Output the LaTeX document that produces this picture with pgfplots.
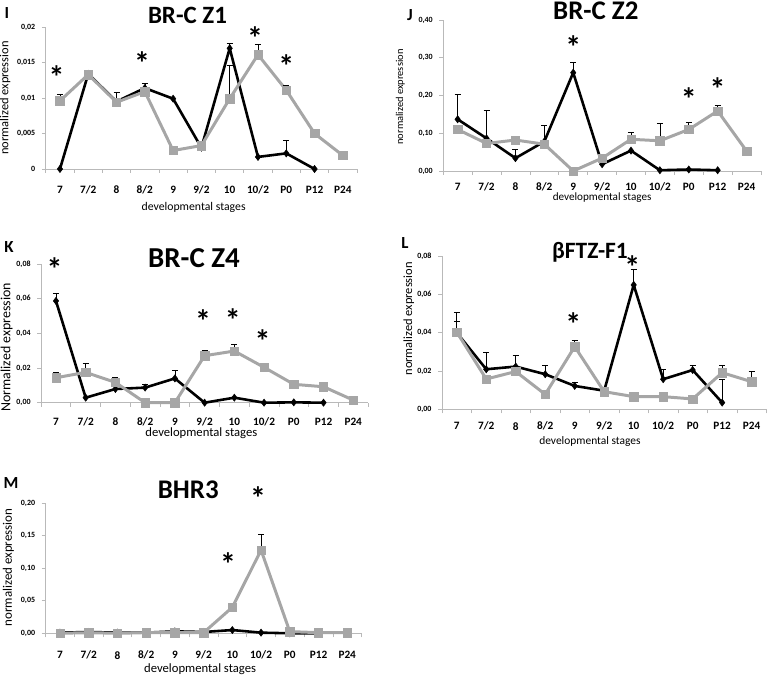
\documentclass[border=0pt]{standalone}
\usepackage{pgfplots}
\pgfplotsset{compat=1.18}
\usepackage{fontspec}
\setmainfont{Carlito}
\definecolor{sgray}{RGB}{166,166,166}
\definecolor{agray}{RGB}{185,185,185}
\tikzset{
 ast/.style={font=\fontsize{32}{32}\selectfont\bfseries, anchor=center, yshift=-5.7bp, inner sep=0pt},
 lett/.style={font=\fontsize{17}{19}\selectfont\bfseries, anchor=center},
 ttl/.style={anchor=base, inner sep=0pt},
}
\pgfplotsset{
 panel/.style={
  scale only axis, anchor=south west, axis lines=left,
  axis line style={-, draw=agray, line width=0.7pt},
  xmin=-0.5, xmax=10.5, enlargelimits=false, clip=false,
  scaled y ticks=false,
  xtick={0,...,10}, xticklabels={7,7/2,8,8/2,9,9/2,10,10/2,P0,P12,P24},
  minor xtick={-0.5,0.5,...,10.5},
  major x tick style={draw=none},
  minor tick length=4bp, major tick length=4bp,
  tick align=outside, tick style={draw=agray, line width=0.7pt},
  xticklabel style={font=\fontsize{11.3}{12}\selectfont\bfseries, anchor=center},
  yticklabel style={font=\fontsize{8}{10}\selectfont\bfseries, anchor=east, xshift=-3bp},
  xlabel={developmental stages}, ylabel={normalized expression},
  xlabel style={anchor=center},
  ylabel style={anchor=center},
 },
 blk/.style={black, line width=2.6pt, mark=diamond*, mark size=3.6bp, mark options={solid, fill=black, draw=black, line width=0.5pt}},
 gry/.style={sgray, line width=3pt, mark=square*, mark size=4.2bp, mark options={solid, fill=sgray, draw=sgray, line width=0.5pt}},
 errb/.style={draw=none, mark=none, forget plot, error bars/.cd, y dir=plus, y explicit, error bar style={draw=black, line width=0.6pt}, error mark options={draw=black, mark size=3bp, line width=0.6pt, rotate=90}},
}
\begin{document}
\begin{tikzpicture}
\path[use as bounding box] (0bp,0bp) rectangle (769bp,678bp);
% titles and panel letters
\node[lett] at (7bp,665bp) {I};
\node[lett] at (410bp,663bp) {J};
\node[lett] at (9bp,431bp) {K};
\node[lett] at (405bp,435bp) {L};
\node[lett] at (11bp,195bp) {M};
\node[ttl, font=\fontsize{25}{28}\selectfont\bfseries] at (187.5bp,654.8bp) {BR-C Z1};
\node[ttl, font=\fontsize{27}{30}\selectfont\bfseries] at (595.8bp,658bp) {BR-C Z2};
\node[ttl, font=\fontsize{29}{32}\selectfont\bfseries] at (194bp,410.5bp) {BR-C Z4};
\node[ttl, font=\fontsize{23.5}{26}\selectfont\bfseries] at (590bp,419.8bp) {βFTZ-F1};
\node[ttl, font=\fontsize{27}{30}\selectfont\bfseries] at (188.3bp,179bp) {BHR3};
% ---------------- Panel I ----------------
\begin{axis}[panel, at={(45.8bp,509bp)}, width=311.2bp, height=142bp,
  ymin=0, ymax=0.02, ytick={0,0.005,0.01,0.015,0.02},
  yticklabels={0,{0,005},{0,01},{0,015},{0,02}},
  xticklabel style={yshift=-17bp},
  xlabel style={font=\fontsize{11.8}{13}\selectfont, at={(axis description cs:0.475,-0.268)}},
  ylabel style={font=\fontsize{12.5}{14}\selectfont, at={(axis description cs:-0.131,0.5)}}]
\addplot[blk] table {
x y
0 0
1 0.0134
2 0.0095
3 0.0114
4 0.0099
5 0.0030
6 0.0170
7 0.0017
8 0.0022
9 0.0
};
\addplot[gry] table {
x y
0 0.0096
1 0.0133
2 0.0094
3 0.0109
4 0.0026
5 0.0033
6 0.0099
7 0.0161
8 0.0111
9 0.0050
10 0.0019
};
\addplot[errb] table[x=x,y=y,y error=e] {
x y e
1 0.0134 0.0004
3 0.0114 0.0006
6 0.0170 0.0007
8 0.0022 0.0019
};
\addplot[errb] table[x=x,y=y,y error=e] {
x y e
0 0.0096 0.0009
2 0.0094 0.0014
6 0.0099 0.0047
7 0.0161 0.0015
8 0.0111 0.0007
};
\node[ast] at (axis cs:-0.12,0.01375) {*};
\node[ast] at (axis cs:2.9,0.01577) {*};
\node[ast] at (axis cs:6.9,0.0193) {*};
\node[ast] at (axis cs:8.0,0.01535) {*};
\end{axis}
% ---------------- Panel J ----------------
\begin{axis}[panel, at={(443.2bp,507bp)}, width=317.8bp, height=151bp,
  ymin=0, ymax=0.4, ytick={0,0.1,0.2,0.3,0.4},
  yticklabels={{0,00},{0,10},{0,20},{0,30},{0,40}},
  xticklabel style={yshift=-11.5bp},
  xlabel style={font=\fontsize{11.2}{13}\selectfont, at={(axis description cs:0.5,-0.178)}},
  ylabel style={font=\fontsize{10.5}{12}\selectfont, at={(axis description cs:-0.135,0.49)}}]
\addplot[blk] table {
x y
0 0.137
1 0.0865
2 0.034
3 0.078
4 0.2605
5 0.018
6 0.054
7 0.002
8 0.004
9 0.002
};
\addplot[gry] table {
x y
0 0.110
1 0.073
2 0.082
3 0.071
4 0.0
5 0.034
6 0.084
7 0.080
8 0.110
9 0.159
10 0.053
};
\addplot[errb] table[x=x,y=y,y error=e] {
x y e
0 0.137 0.065
1 0.0865 0.075
2 0.034 0.023
3 0.078 0.043
4 0.2605 0.028
};
\addplot[errb] table[x=x,y=y,y error=e] {
x y e
2 0.082 0.011
6 0.084 0.018
7 0.080 0.046
8 0.110 0.018
9 0.159 0.016
};
\node[ast] at (axis cs:4,0.3425) {*};
\node[ast] at (axis cs:8,0.2066) {*};
\node[ast] at (axis cs:9,0.2331) {*};
\end{axis}
% ---------------- Panel K ----------------
\begin{axis}[panel, at={(41.1bp,275.3bp)}, width=327bp, height=138.7bp,
  ymin=0, ymax=0.08, ytick={0,0.02,0.04,0.06,0.08},
  yticklabels={{0,00},{0,02},{0,04},{0,06},{0,08}},
  ylabel={Normalized expression},
  xticklabel style={yshift=-15bp},
  xlabel style={font=\fontsize{12.7}{14}\selectfont, at={(axis description cs:0.49,-0.218)}},
  ylabel style={font=\fontsize{14}{16}\selectfont, at={(axis description cs:-0.105,0.40)}}]
\addplot[blk] table {
x y
0 0.0587
1 0.0029
2 0.0079
3 0.0087
4 0.0140
5 0.0
6 0.0029
7 0.0
8 0.0002
9 0.0
};
\addplot[gry] table {
x y
0 0.0144
1 0.0175
2 0.0117
3 0.0
4 0.0
5 0.0271
6 0.0298
7 0.0204
8 0.0106
9 0.0092
10 0.0015
};
\addplot[errb] table[x=x,y=y,y error=e] {
x y e
0 0.0587 0.0042
3 0.0087 0.0019
4 0.0140 0.0047
};
\addplot[errb] table[x=x,y=y,y error=e] {
x y e
0 0.0144 0.0029
1 0.0175 0.0052
2 0.0117 0.0029
5 0.0271 0.0031
6 0.0298 0.0039
};
\node[ast] at (axis cs:-0.05,0.0804) {*};
\node[ast] at (axis cs:4.95,0.0506) {*};
\node[ast] at (axis cs:5.95,0.0512) {*};
\node[ast] at (axis cs:6.95,0.0391) {*};
\end{axis}
% ---------------- Panel L ----------------
\begin{axis}[panel, at={(442bp,268.7bp)}, width=324.4bp, height=153.3bp,
  ymin=0, ymax=0.08, ytick={0,0.02,0.04,0.06,0.08},
  yticklabels={{0,00},{0,02},{0,04},{0,06},{0,08}},
  xticklabel style={yshift=-13bp},
  xlabel style={font=\fontsize{11.5}{13}\selectfont, at={(axis description cs:0.456,-0.213)}},
  ylabel style={font=\fontsize{12.5}{14}\selectfont, at={(axis description cs:-0.102,0.59)}}]
\addplot[blk] table {
x y
0 0.0400
1 0.0209
2 0.0223
3 0.0183
4 0.0122
5 0.0097
6 0.0649
7 0.0157
8 0.0205
9 0.0035
};
\addplot[gry] table {
x y
0 0.0403
1 0.0158
2 0.0197
3 0.0078
4 0.0327
5 0.0092
6 0.0066
7 0.0066
8 0.0054
9 0.0191
10 0.0144
};
\addplot[errb] table[x=x,y=y,y error=e] {
x y e
0 0.0400 0.0106
1 0.0209 0.0087
2 0.0223 0.0057
3 0.0183 0.0047
4 0.0122 0.0017
6 0.0649 0.0081
7 0.0157 0.0053
8 0.0205 0.0023
9 0.0035 0.0122
};
\addplot[errb] table[x=x,y=y,y error=e] {
x y e
0 0.0403 0.0057
4 0.0327 0.0033
9 0.0191 0.0040
10 0.0144 0.0056
};
\node[ast] at (axis cs:3.95,0.0476) {*};
\node[ast] at (axis cs:5.95,0.0770) {*};
\end{axis}
% ---------------- Panel M ----------------
\begin{axis}[panel, at={(45.6bp,44.7bp)}, width=316bp, height=130bp,
  ymin=0, ymax=0.2, ytick={0,0.05,0.1,0.15,0.2},
  yticklabels={{0,00},{0,05},{0,10},{0,15},{0,20}},
  xticklabel style={yshift=-18bp},
  xlabel style={font=\fontsize{12.7}{14}\selectfont, at={(axis description cs:0.489,-0.277)}},
  ylabel style={font=\fontsize{13}{15}\selectfont, at={(axis description cs:-0.118,0.506)}}]
\addplot[blk] table {
x y
0 0.001
1 0.002
2 0.001
3 0.001
4 0.003
5 0.002
6 0.005
7 0.001
8 0.0
9 0.0
};
\addplot[gry] table {
x y
0 0.0
1 0.001
2 0.0
3 0.001
4 0.001
5 0.001
6 0.040
7 0.128
8 0.0026
9 0.001
10 0.001
};
\addplot[errb] table[x=x,y=y,y error=e] {
x y e
7 0.128 0.025
};
\node[ast] at (axis cs:5.85,0.1158) {*};
\node[ast] at (axis cs:6.9,0.2174) {*};
\end{axis}
\end{tikzpicture}
\end{document}
